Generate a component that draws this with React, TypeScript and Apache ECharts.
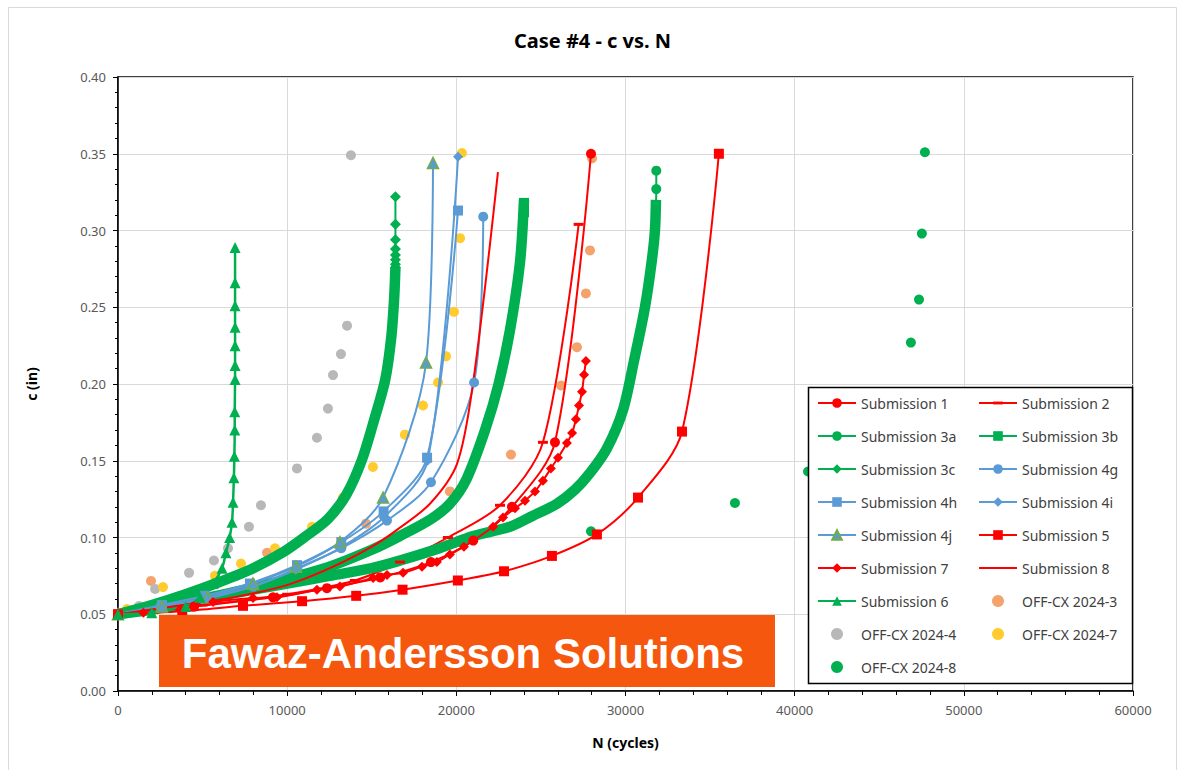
import React, { useEffect, useRef } from 'react';
import * as echarts from 'echarts';

const FONT = "'Noto Sans', 'DejaVu Sans', sans-serif";
const RED = '#FF0000';
const GREEN = '#00B050';
const BLUE = '#5B9BD5';
const OLIVE = '#70AD47';
const DASH = 'path://M0 0M10 10M0 3.5H10V6.5H0Z';

// ---- data: [N (cycles), c (in)] ----
const sub1 = [[0, 0.05], [4500, 0.055], [9160, 0.061], [12350, 0.067], [15500, 0.074], [18500, 0.084], [21000, 0.098], [23290, 0.12], [25830, 0.162], [27960, 0.35]];
const sub2 = [[0, 0.05], [5000, 0.056], [10000, 0.063], [14000, 0.072], [16670, 0.084], [19500, 0.1], [22580, 0.121], [25120, 0.162], [27230, 0.304]];
const sub3aBand = [[0, 0.05], [2000, 0.053], [3960, 0.0575], [6000, 0.062], [8000, 0.066], [10000, 0.07], [12500, 0.075], [15000, 0.08], [16670, 0.085], [19000, 0.093], [21000, 0.101], [23170, 0.107], [24500, 0.114], [25950, 0.122], [27000, 0.131], [27900, 0.142], [28900, 0.158], [29850, 0.183], [30500, 0.215], [31150, 0.25], [31550, 0.28], [31740, 0.3], [31800, 0.32]];
const sub3aTop = [[31800, 0.315], [31820, 0.327], [31820, 0.339]];
const sub3bBand = [[0, 0.05], [2500, 0.055], [5000, 0.06], [7500, 0.066], [10000, 0.073], [12500, 0.081], [15000, 0.092], [16670, 0.101], [18500, 0.112], [19620, 0.122], [20600, 0.138], [21700, 0.17], [22500, 0.2], [23170, 0.235], [23760, 0.279], [24000, 0.32]];
const sub3bTop = [[24000, 0.312], [24000, 0.318]];
const sub3cBand = [[0, 0.05], [2000, 0.056], [4000, 0.063], [6000, 0.071], [8000, 0.08], [9700, 0.09], [11000, 0.1], [12400, 0.112], [13500, 0.128], [14400, 0.15], [15100, 0.175], [15800, 0.203], [16150, 0.23], [16320, 0.255], [16400, 0.276]];
const sub3cTop = [[16400, 0.276], [16400, 0.278], [16400, 0.281], [16400, 0.284], [16400, 0.288], [16400, 0.294], [16400, 0.304], [16400, 0.322]];
const sub4g = [[0, 0.05], [2500, 0.055], [5000, 0.06], [8000, 0.068], [10600, 0.08], [13200, 0.093], [15900, 0.111], [18500, 0.136], [21050, 0.201], [21590, 0.309]];
const sub4h = [[0, 0.05], [2600, 0.056], [5150, 0.062], [7800, 0.07], [10580, 0.082], [13200, 0.097], [15700, 0.117], [18270, 0.152], [20100, 0.313]];
const sub4i = [[0, 0.05], [2600, 0.055], [5200, 0.06], [7900, 0.068], [10500, 0.079], [13100, 0.093], [15700, 0.113], [18300, 0.15], [20100, 0.348]];
const sub4j = [[0, 0.05], [2600, 0.055], [5300, 0.061], [7980, 0.07], [10520, 0.081], [13120, 0.097], [15670, 0.126], [18210, 0.214], [18620, 0.344]];
const sub5 = [[0, 0.05], [3800, 0.052], [7390, 0.0555], [10880, 0.0585], [14080, 0.062], [16820, 0.066], [20090, 0.072], [22820, 0.078], [25650, 0.088], [28310, 0.102], [30740, 0.126], [33340, 0.169], [35520, 0.35]];
const sub7 = [[0, 0.05], [1500, 0.051], [3660, 0.053], [5620, 0.058], [7980, 0.0606], [9400, 0.061], [11760, 0.066], [13120, 0.068], [15080, 0.0736], [15900, 0.0756], [16850, 0.077], [17970, 0.081], [18850, 0.084], [19620, 0.089], [20450, 0.094], [22170, 0.107], [22760, 0.113], [23470, 0.119], [24060, 0.124], [24650, 0.13], [25120, 0.137], [25590, 0.145], [26010, 0.152], [26540, 0.1616], [26840, 0.168], [27070, 0.177], [27250, 0.186], [27430, 0.195], [27550, 0.206], [27660, 0.215]];
const sub8 = [[0, 0.05], [3840, 0.056], [6800, 0.061], [9990, 0.069], [12720, 0.081], [15000, 0.094], [16490, 0.105], [18440, 0.122], [20040, 0.148], [20980, 0.2], [22460, 0.338]];
const sub6 = [[0, 0.05], [2000, 0.051], [4000, 0.055], [4850, 0.061], [5620, 0.07], [6150, 0.08], [6380, 0.09], [6600, 0.1], [6740, 0.11], [6800, 0.123], [6850, 0.139], [6880, 0.153], [6900, 0.17], [6900, 0.182], [6920, 0.203], [6920, 0.212], [6920, 0.225], [6920, 0.237], [6920, 0.251], [6920, 0.266], [6920, 0.289]];
const offcx3 = [[1950, 0.0717], [8810, 0.09], [14660, 0.109], [19620, 0.13], [23230, 0.154], [26190, 0.199], [27130, 0.224], [27660, 0.259], [27900, 0.287], [28020, 0.347]];
const offcx4 = [[1240, 0.0554], [2190, 0.0665], [4200, 0.077], [5670, 0.085], [6500, 0.093], [7740, 0.107], [8450, 0.121], [10580, 0.145], [11760, 0.165], [12410, 0.184], [12710, 0.2058], [13180, 0.2195], [13540, 0.238], [13770, 0.349]];
const offcx7 = [[530, 0.0534], [2660, 0.0677], [5730, 0.075], [7270, 0.083], [9280, 0.093], [11470, 0.107], [13300, 0.126], [15070, 0.146], [16960, 0.167], [18030, 0.186], [18920, 0.201], [19390, 0.218], [19860, 0.247], [20220, 0.295], [20330, 0.3505]];
const offcx8 = [[27960, 0.104], [36470, 0.1225], [40790, 0.143], [46870, 0.227], [47350, 0.255], [47520, 0.298], [47700, 0.351]];

const legendLeft = ['Submission 1', 'Submission 3a', 'Submission 3c', 'Submission 4h', 'Submission 4j', 'Submission 7', 'Submission 6', 'OFF-CX 2024-4', 'OFF-CX 2024-8'];
const legendRight = ['Submission 2', 'Submission 3b', 'Submission 4g', 'Submission 4i', 'Submission 5', 'Submission 8', 'OFF-CX 2024-3', 'OFF-CX 2024-7'];

function lineSeries(name: string, data: number[][], color: string, symbol: string, size: any, width: number, extra: any = {}) {
  return {
    type: 'line', name, data, smooth: 0.3, symbol, symbolSize: size,
    showSymbol: symbol !== 'none', showAllSymbol: true,
    lineStyle: { color, width }, itemStyle: { color },
    emphasis: { disabled: true }, ...extra,
  };
}
function bandSeries(name: string, data: number[][], color: string) {
  return {
    type: 'line', name, data, smooth: 0.3, symbol: 'none', showSymbol: false,
    lineStyle: { color, width: 10.5 }, itemStyle: { color }, emphasis: { disabled: true },
  };
}
function scatterSeries(name: string, data: number[][], color: string) {
  return { type: 'scatter', name, data, symbol: 'circle', symbolSize: 10, itemStyle: { color, opacity: 1 }, emphasis: { disabled: true } };
}

export default function App() {
  const ref = useRef<HTMLDivElement>(null);
  useEffect(() => {
    const chart = echarts.init(ref.current!, null, { renderer: 'svg' });
    const legendCommon = {
      orient: 'vertical', top: 396, padding: 0, itemWidth: 38, itemHeight: 12, itemGap: 19,
      selectedMode: false,
      textStyle: { fontSize: 14, color: '#404040', fontFamily: FONT, lineHeight: 14 },
    };
    chart.setOption({
      animation: false,
      backgroundColor: '#fff',
      textStyle: { fontFamily: FONT },
      title: {
        text: 'Case #4 - c vs. N', left: 'center', top: 25,
        textStyle: { fontSize: 20, fontWeight: 'bold', color: '#000', fontFamily: FONT },
      },
      grid: { left: 118, top: 77, width: 1015, height: 614, show: true, borderColor: '#000', borderWidth: 1.5 },
      xAxis: {
        type: 'value', min: 0, max: 60000, interval: 10000,
        name: 'N (cycles)', nameLocation: 'middle', nameGap: 44,
        nameTextStyle: { fontSize: 14, fontWeight: 'bold', color: '#000', fontFamily: FONT },
        axisLine: { lineStyle: { color: '#000', width: 1.5 } },
        axisTick: { show: true, length: 5, lineStyle: { color: '#000' } },
        minorTick: { show: true, splitNumber: 5, length: 4, lineStyle: { color: '#000' } },
        axisLabel: { fontSize: 13, color: '#595959', margin: 12, fontFamily: FONT, formatter: (v: number) => String(v) },
        splitLine: { show: true, lineStyle: { color: '#D9D9D9', width: 1 } },
      },
      yAxis: {
        type: 'value', min: 0, max: 0.4, interval: 0.05,
        name: 'c (in)', nameLocation: 'middle', nameGap: 80,
        nameTextStyle: { fontSize: 14, fontWeight: 'bold', color: '#000', fontFamily: FONT },
        axisLine: { show: true, lineStyle: { color: '#000', width: 1.5 } },
        axisTick: { show: true, length: 5, lineStyle: { color: '#000' } },
        minorTick: { show: true, splitNumber: 5, length: 3, lineStyle: { color: '#000' } },
        axisLabel: { fontSize: 13, color: '#595959', margin: 12, fontFamily: FONT, formatter: (v: number) => v.toFixed(2) },
        splitLine: { show: true, lineStyle: { color: '#D9D9D9', width: 1 } },
      },
      legend: [
        { ...legendCommon, left: 817, data: legendLeft },
        { ...legendCommon, left: 978, data: legendRight },
      ],
      series: [
        lineSeries('Submission 1', sub1, RED, 'circle', 10, 2),
        lineSeries('Submission 2', sub2, RED, DASH, 10, 2, { symbolKeepAspect: true }),
        lineSeries('Submission 3a', sub3aTop, GREEN, 'circle', 10, 2),
        bandSeries('Submission 3a', sub3aBand, GREEN),
        lineSeries('Submission 3b', sub3bTop, GREEN, 'rect', 10, 2),
        bandSeries('Submission 3b', sub3bBand, GREEN),
        lineSeries('Submission 3c', sub3cTop, GREEN, 'diamond', 11, 2),
        bandSeries('Submission 3c', sub3cBand, GREEN),
        lineSeries('Submission 4g', sub4g, BLUE, 'circle', 10, 2),
        lineSeries('Submission 4h', sub4h, BLUE, 'rect', 10, 2),
        lineSeries('Submission 4i', sub4i, BLUE, 'diamond', 10, 2),
        lineSeries('Submission 4j', sub4j, BLUE, 'triangle', 11, 2, { itemStyle: { color: BLUE, borderColor: OLIVE, borderWidth: 1.5 } }),
        lineSeries('Submission 5', sub5, RED, 'rect', 10, 2),
        lineSeries('Submission 7', sub7, RED, 'diamond', 10, 2),
        lineSeries('Submission 8', sub8, RED, 'none', 0, 2, { itemStyle: { color: 'rgba(0,0,0,0)' } }),
        lineSeries('Submission 6', sub6, GREEN, 'triangle', 11, 2.5),
        scatterSeries('OFF-CX 2024-3', offcx3, '#F4A36C'),
        scatterSeries('OFF-CX 2024-4', offcx4, '#B8B8B8'),
        scatterSeries('OFF-CX 2024-7', offcx7, '#FFCB2E'),
        scatterSeries('OFF-CX 2024-8', offcx8, GREEN),
      ],
      graphic: [
        { type: 'rect', z: 0, silent: true, shape: { x: 8.5, y: 7.5, width: 1168, height: 800 }, style: { fill: 'none', stroke: '#D9D9D9', lineWidth: 1 } },
        { type: 'rect', z: 3, silent: true, shape: { x: 808.5, y: 387.5, width: 324, height: 296 }, style: { fill: '#fff', stroke: '#000', lineWidth: 1.5 } },
        { type: 'rect', z: 10, silent: true, shape: { x: 159, y: 615, width: 616, height: 72 }, style: { fill: '#F5570F' } },
        {
          type: 'text', z: 11, silent: true, x: 463, y: 653,
          style: { text: 'Fawaz-Andersson Solutions', fill: '#fff', font: "bold 42px 'Liberation Sans', Arial, sans-serif", textAlign: 'center', textVerticalAlign: 'middle' },
        },
      ],
    });
    return () => chart.dispose();
  }, []);
  return <div ref={ref} style={{ position: 'fixed', left: 0, top: 0, width: 1185, height: 770, background: '#fff' }} />;
}
